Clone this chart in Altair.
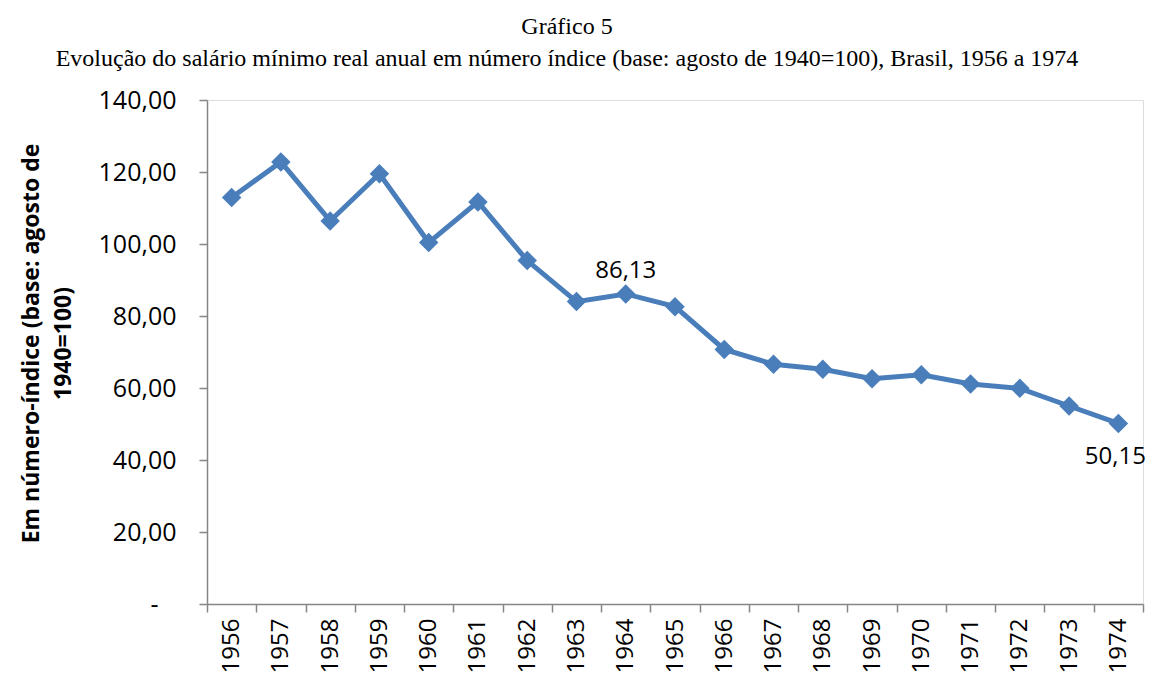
import altair as alt
import pandas as pd

anos = ["1956", "1957", "1958", "1959", "1960", "1961", "1962", "1963", "1964", "1965",
        "1966", "1967", "1968", "1969", "1970", "1971", "1972", "1973", "1974"]
indice = [112.9, 122.8, 106.4, 119.5, 100.4, 111.7, 95.4, 84.0, 86.13, 82.6,
          70.7, 66.6, 65.2, 62.6, 63.7, 61.1, 59.9, 55.0, 50.15]
rotulos = ["", "", "", "", "", "", "", "", "86,13", "",
           "", "", "", "", "", "", "", "", "50,15"]
y_ticks = [0, 20, 40, 60, 80, 100, 120, 140]

df = pd.DataFrame({"ano": anos, "indice": indice, "rotulo": rotulos})

COR = "#4A7EBB"
EIXO = "#868686"
FONTE = "Open Sans"

x_enc = alt.X(
    "ano:N",
    bandPosition=0.5,
    sort=anos,
    scale=alt.Scale(type="band", paddingInner=0, paddingOuter=0),
    axis=alt.Axis(
        title=None, labelAngle=270, labelFont=FONTE, labelFontSize=24,
        labelColor="black", tickBand="extent", tickSize=8, tickColor=EIXO,
        tickWidth=1.5, domainColor=EIXO, domainWidth=1.5, labelPadding=6,
        grid=False,
    ),
)
y_enc = alt.Y(
    "indice:Q",
    scale=alt.Scale(domain=[0, 140], nice=False),
    axis=alt.Axis(
        values=y_ticks,
        labelExpr="datum.value == 0 ? '-' : replace(format(datum.value, '.2f'), '.', ',')",
        labelFont=FONTE, labelFontSize=25, labelColor="black",
        labelPadding={"condition": {"test": "datum.value == 0", "value": 41}, "value": 23},
        tickSize=8, tickColor=EIXO, tickWidth=1.5, domainColor=EIXO, domainWidth=1.5,
        grid=False,
        title=["Em número-índice (base: agosto de", "1940=100)"],
        titleFont=FONTE, titleFontSize=23, titleFontWeight="bold", titleColor="black",
        titleAngle=270, titleX=-176, titleY=243, titleBaseline="middle",
        titleLineHeight=32, titleAlign="center",
    ),
)

base = alt.Chart(df).encode(x=x_enc, y=y_enc)

linha = base.mark_line(color=COR, strokeWidth=5)
pontos = base.mark_point(shape="diamond", filled=True, size=380, color=COR, opacity=1)
rot1 = base.transform_filter("datum.ano == '1964'").mark_text(
    dy=-23, font=FONTE, fontSize=24, color="black").encode(text="rotulo:N")
rot2 = base.transform_filter("datum.ano == '1974'").mark_text(
    dy=34, dx=-3, font=FONTE, fontSize=24, color="black").encode(text="rotulo:N")

chart = alt.layer(linha, pontos, rot1, rot2).properties(
    width=936,
    height=504,
    autosize=alt.AutoSizeParams(type="none"),
    padding={"left": 199, "top": 92, "right": 6, "bottom": 75},
    title=alt.Title(
        text="Gráfico 5",
        subtitle="Evolução do salário mínimo real anual em número índice (base: agosto de 1940=100), Brasil, 1956 a 1974",
        font="Liberation Serif", fontSize=24, fontWeight="normal", color="black",
        subtitleFont="Liberation Serif", subtitleFontSize=24, subtitleColor="black",
        subtitlePadding=8, anchor="middle", frame="group", dx=-108, offset=17,
    ),
).configure_view(stroke=None).configure(background="white")

chart.save("out.html", embed_options={"renderer": "svg", "actions": False})
